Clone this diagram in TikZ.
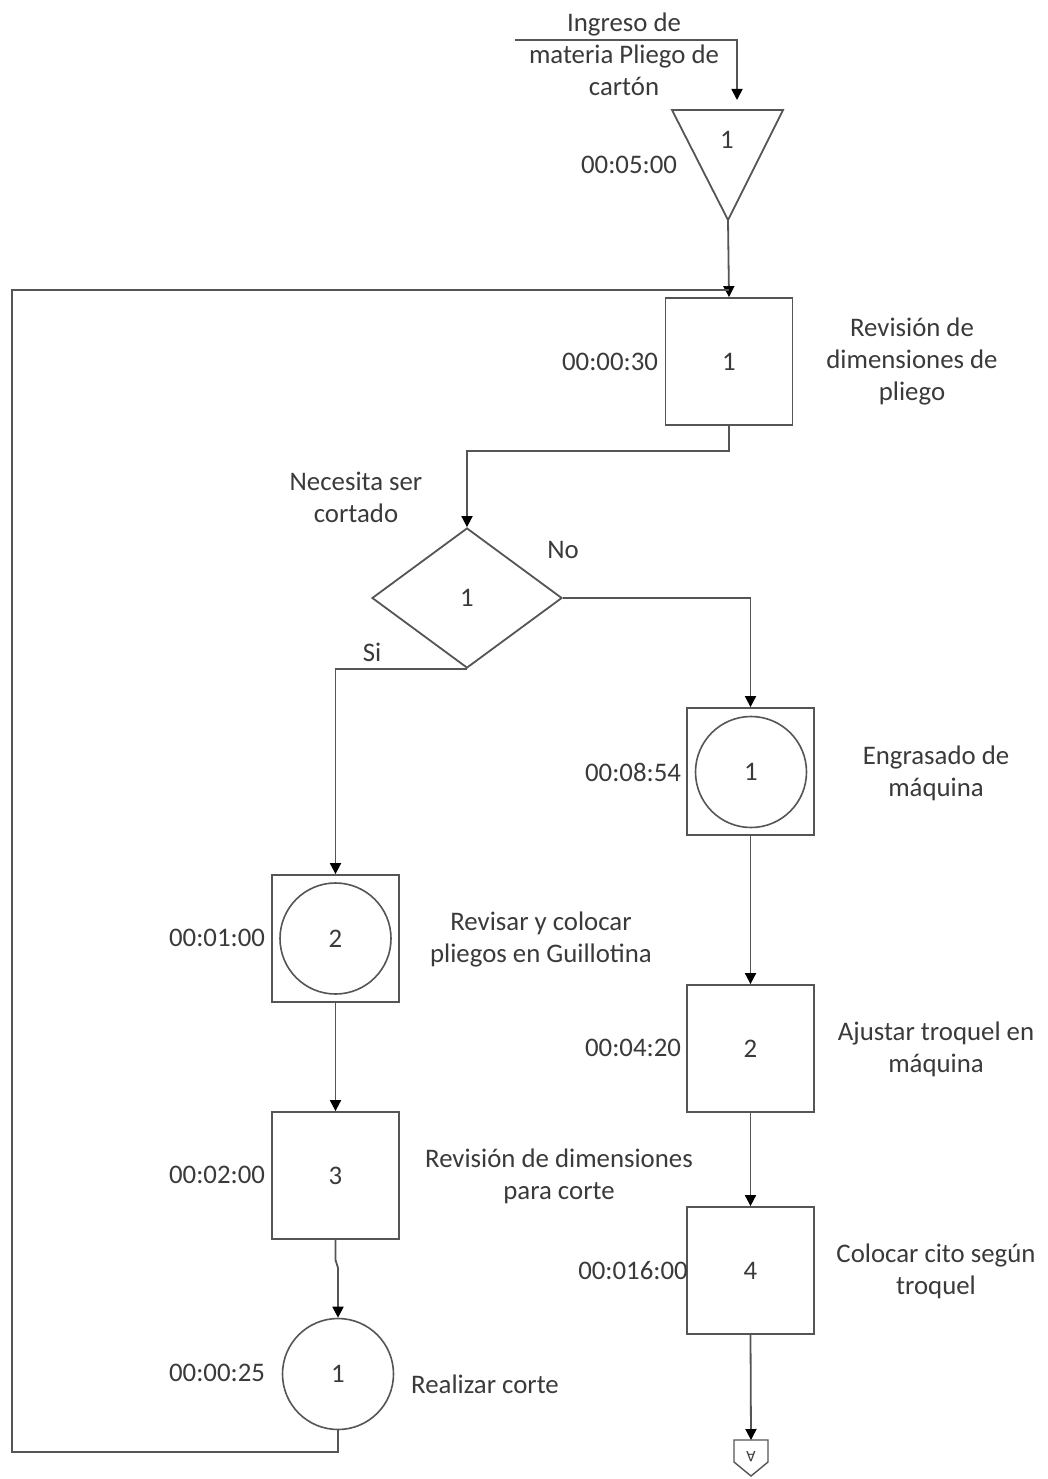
\documentclass[tikz,border=0pt]{standalone}
\usepackage{fontspec}
\setmainfont{Carlito}
\usetikzlibrary{arrows.meta,shapes.geometric}
\definecolor{ln}{HTML}{555555}
\definecolor{tx}{HTML}{3A3A3A}
\begin{document}
\begin{tikzpicture}[x=1pt,y=-1pt,
  every node/.style={text=tx,font=\fontsize{26.8}{32}\selectfont},
  line/.style={draw=ln,line width=1.8pt},
  arr/.style={line,-{Triangle[width=11pt,length=11pt,fill=black,color=black]}},
  sq/.style={draw=ln,line width=1.8pt,minimum width=127pt,minimum height=127pt,inner sep=0pt},
  circ/.style={draw=ln,line width=1.6pt,circle,minimum size=111pt,inner sep=0pt},
  dia/.style={draw=ln,line width=1.8pt,diamond,minimum width=190pt,minimum height=140pt,inner sep=0pt},
  lbl/.style={align=center,inner sep=0pt},
  tm/.style={inner sep=0pt}]
\useasboundingbox[fill=white] (0,0) rectangle (1047,1479);

% input
\node[lbl] (inTxt) at (624,54) {Ingreso de\\materia Pliego de\\cartón};
\coordinate (inS) at (515,40);
\coordinate (inE) at (737,100);
\draw[arr] (inS) -| (inE);

% storage triangle
\coordinate (triA) at (672,110);
\coordinate (triB) at (783,110);
\coordinate (triC) at (728,220);
\draw[line,line join=miter] (triA) -- (triB) -- (triC) -- cycle;
\node[tm] (triN) at (727,140) {1};
\node[tm] (triT) at (629,165) {00:05:00};

% box 1
\node[sq] (b1) at (729,361.5) {1};
\node[tm] (b1t) at (610,362) {00:00:30};
\node[lbl] (b1l) at (912,361) {Revisión de\\dimensiones de\\pliego};
\draw[arr] (triC) -- (b1.north);

% loop back
\coordinate (lb) at (12,1452);
\coordinate (lt) at (12,290);
\coordinate (lj) at (729,290);

% decision
\node[dia] (d1) at (467,598) {1};
\node[lbl] (d1l) at (356,497) {Necesita ser\\cortado};
\node[tm] (no) at (563,550) {No};
\node[tm] (si) at (372,652) {Si};
\draw[arr] (b1.south) -- ++(0,25) -| (d1.north);

% right column
\node[sq] (o1) at (750.5,771.5) {};
\node[circ] (o1c) at (751,772) {1};
\node[tm] (o1t) at (633,772) {00:08:54};
\node[lbl] (o1l) at (936,773) {Engrasado de\\máquina};
\draw[arr] (d1.east) -| (o1.north);

\node[sq] (b2) at (750.5,1048.5) {2};
\node[tm] (b2t) at (633,1048) {00:04:20};
\node[lbl] (b2l) at (936,1049) {Ajustar troquel en\\máquina};
\draw[arr] (o1.south) -- (b2.north);

\node[sq] (b4) at (750.5,1270.5) {4};
\node[tm] (b4t) at (633,1271) {00:016:00};
\node[lbl] (b4l) at (936,1271) {Colocar cito según\\troquel};
\draw[arr] (b2.south) -- (b4.north);

% off-page connector
\coordinate (pT) at (751,1440);
\draw[line,line width=1.4pt,line join=miter] (734,1440) -- (768,1440) -- (768,1462) -- (751,1476) -- (734,1462) -- cycle;
\node[inner sep=0pt,font=\fontsize{16}{18}\selectfont,rotate=180] (pN) at (751,1457) {A};
\draw[arr] (b4.south) -- (pT);

% left column
\node[sq] (o2) at (335.5,938.5) {};
\node[circ] (o2c) at (335.5,938.5) {2};
\node[tm] (o2t) at (217,938) {00:01:00};
\node[lbl] (o2l) at (541,939) {Revisar y colocar\\pliegos en Guillotina};
\draw[arr] (d1.south) -| (o2.north);

\node[sq] (b3) at (335.5,1175.5) {3};
\node[tm] (b3t) at (217,1175) {00:02:00};
\node[lbl] (b3l) at (559,1176) {Revisión de dimensiones\\para corte};
\draw[arr] (o2.south) -- (b3.north);

\node[circ] (c5) at (338,1374) {1};
\node[tm] (c5t) at (217,1373) {00:00:25};
\node[tm] (c5l) at (485,1384) {Realizar corte};
\draw[arr] (b3.south) -- ++(0,20) -- ++(2.5,8) -- (c5.north);

\draw[line] (c5.south) |- (lb) -- (lt) -- (lj);
\end{tikzpicture}
\end{document}
